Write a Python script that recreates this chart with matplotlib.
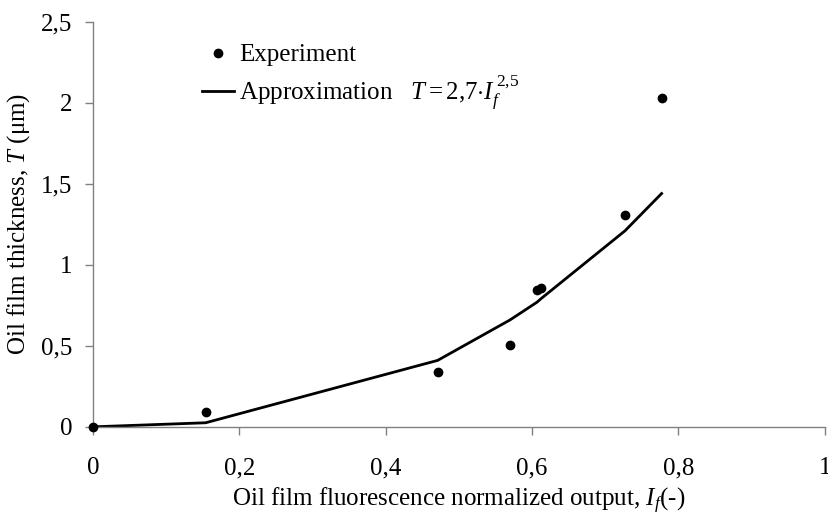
import matplotlib.pyplot as plt
from matplotlib.ticker import FuncFormatter

plt.rcParams['font.family'] = ['Liberation Serif', 'DejaVu Serif']
plt.rcParams['mathtext.fontset'] = 'custom'
plt.rcParams['mathtext.rm'] = 'Liberation Serif'
plt.rcParams['mathtext.it'] = 'Liberation Serif:italic'

# Experiment points
exp_x = [0.0, 0.154, 0.471, 0.570, 0.607, 0.612, 0.727, 0.777]
exp_t = [0.0, 0.093, 0.340, 0.506, 0.846, 0.858, 1.310, 2.030]

# Approximation line
appr_x = [0.0, 0.154, 0.471, 0.570, 0.607, 0.612, 0.727, 0.777]
appr_t = [0.0, 0.025, 0.410, 0.660, 0.770, 0.790, 1.210, 1.440]

x_ticks = [0, 0.2, 0.4, 0.6, 0.8, 1.0]
y_ticks = [0, 0.5, 1.0, 1.5, 2.0, 2.5]

FS = 18

fig = plt.figure(figsize=(8.29, 5.18), dpi=100)
ax = fig.add_axes([0.112, 0.176, 0.883, 0.782])

ax.plot(exp_x, exp_t, 'o', color='black', markersize=6, label='Experiment', clip_on=False, zorder=3)
ax.plot(appr_x, appr_t, '-', color='black', linewidth=2,
        label='Approximation   $T = 2{,}7{\\cdot}I_f^{\\,2{,}5}$')

ax.set_xlim(0, 1)
ax.set_ylim(0, 2.5)
ax.set_xticks(x_ticks)
ax.set_yticks(y_ticks)
fmt = FuncFormatter(lambda v, p: ('%g' % v).replace('.', ','))
ax.xaxis.set_major_formatter(fmt)
ax.yaxis.set_major_formatter(fmt)

for s in ['top', 'right']:
    ax.spines[s].set_visible(False)
for s in ['left', 'bottom']:
    ax.spines[s].set_color('#808080')
    ax.spines[s].set_linewidth(1)
ax.tick_params(axis='both', colors='#808080', labelcolor='black', labelsize=FS, length=6, width=1)
ax.tick_params(axis='x', pad=16)
ax.tick_params(axis='y', pad=9)

ax.set_xlabel('Oil film fluorescence normalized output, $I_f$(-)', fontsize=FS, labelpad=5)
ax.set_ylabel('Oil film thickness, $T$ (\u03bcm)', fontsize=FS, labelpad=6)

ax.legend(loc='upper left', bbox_to_anchor=(0.135, 0.97), frameon=False, fontsize=FS,
          handlelength=1.3, handletextpad=0.2, labelspacing=0.25, borderaxespad=0)

fig.savefig('out.png', dpi=100)
